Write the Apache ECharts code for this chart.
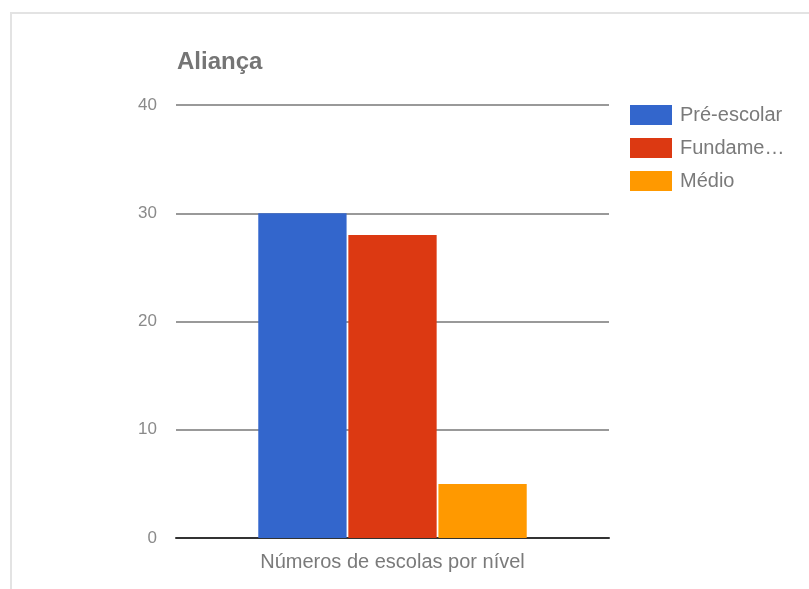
<!DOCTYPE html>
<html><head><meta charset="utf-8">
<script src="https://cdn.jsdelivr.net/npm/echarts@6/dist/echarts.min.js"></script>
<style>
html,body{margin:0;padding:0;background:#fff;}
#frame{position:absolute;left:10px;top:12px;width:799px;height:577px;border-top:2px solid #e3e3e3;border-left:2px solid #e3e3e3;}
#c{position:absolute;left:0;top:0;width:809px;height:589px;}
</style></head>
<body><div id="frame"></div><div id="c"></div>
<script>
const categories = ['Números de escolas por nível'];
const seriesNames = ['Pré-escolar', 'Fundamental', 'Médio'];
const preEscolar = [30];
const fundamental = [28];
const medio = [5];
const yTicks = [0, 10, 20, 30, 40];
const colors = ['#3366cc', '#dc3912', '#ff9900'];

const chart = echarts.init(document.getElementById('c'), null, {renderer: 'canvas'});
const font = 'Arial, "Liberation Sans", sans-serif';
const values = [preEscolar, fundamental, medio];
chart.setOption({
  animation: false,
  title: {text: 'Aliança', left: 172, top: 45, textStyle: {fontFamily: font, fontSize: 24, fontWeight: 'bold', color: '#757575'}},
  legend: {
    orient: 'vertical', left: 630, top: 105, padding: 0, itemWidth: 42, itemHeight: 20, itemGap: 13,
    icon: 'rect',
    textStyle: {fontFamily: font, fontSize: 20, color: '#7a7a7a', width: 106, overflow: 'truncate', ellipsis: '…', padding: [0, 0, 0, 3]},
    data: seriesNames
  },
  grid: {left: 176, right: 200, top: 105, bottom: 51, containLabel: false},
  xAxis: {
    type: 'category', data: categories,
    axisLine: {lineStyle: {color: '#333', width: 2}},
    axisTick: {show: false},
    axisLabel: {fontFamily: font, fontSize: 20, color: '#7a7a7a', margin: 14}
  },
  yAxis: {
    type: 'value', min: yTicks[0], max: yTicks[yTicks.length - 1], interval: 10,
    axisLine: {show: false}, axisTick: {show: false},
    splitLine: {lineStyle: {color: '#999', width: 2}},
    axisLabel: {fontFamily: font, fontSize: 17, color: '#8a8a8a', margin: 19}
  },
  series: seriesNames.map((n, i) => ({
    name: n, type: 'bar', data: values[i],
    barCategoryGap: '38%', barGap: '2%',
    itemStyle: {color: colors[i]}
  }))
});
</script></body></html>
